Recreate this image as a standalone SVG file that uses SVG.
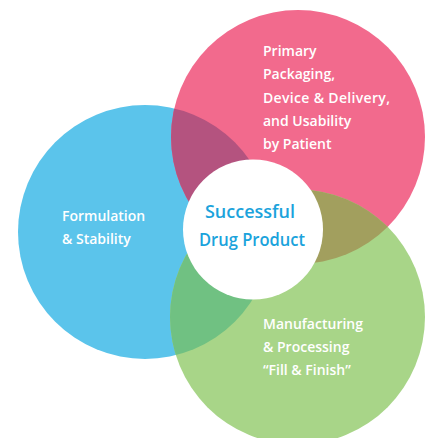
<svg xmlns="http://www.w3.org/2000/svg" width="435" height="438" viewBox="0 0 435 438">
<style>
.lbl{font-family:"Open Sans","Noto Sans",sans-serif;font-weight:600;font-size:14px;fill:#ffffff}
.ctr{font-family:"Open Sans","Noto Sans",sans-serif;font-weight:600;font-size:18px;fill:#1ba3dc;text-anchor:middle}
</style>
<defs>
<clipPath id="cBlue"><circle cx="145" cy="232" r="127"/></clipPath>
<clipPath id="cPink"><circle cx="298" cy="137" r="127"/></clipPath>
</defs>
<rect width="435" height="438" fill="#ffffff"/>
<g id="formulation">
<circle cx="145" cy="232" r="127" fill="#5bc4eb"/>
</g>
<g id="packaging">
<circle cx="298" cy="137" r="127" fill="#f26a8d"/>
</g>
<g id="manufacturing">
<circle cx="297.5" cy="317" r="127.5" fill="#a8d588"/>
</g>
<g id="overlaps">
<circle cx="298" cy="137" r="127" fill="#b4537f" clip-path="url(#cBlue)"/>
<circle cx="297.5" cy="317" r="127.5" fill="#70c182" clip-path="url(#cBlue)"/>
<circle cx="297.5" cy="317" r="127.5" fill="#a29f5e" clip-path="url(#cPink)"/>
</g>
<g id="center">
<circle cx="253" cy="229.5" r="70" fill="#ffffff"/>
<text class="ctr" x="250" y="218">Successful</text>
<text class="ctr" x="252" y="246" textLength="106" lengthAdjust="spacingAndGlyphs">Drug Product</text>
</g>
<g id="labels">
<text class="lbl" x="62" y="221">Formulation</text>
<text class="lbl" x="62" y="244">&amp; Stability</text>
<text class="lbl" x="263" y="56">Primary</text>
<text class="lbl" x="263" y="79">Packaging,</text>
<text class="lbl" x="263" y="103" textLength="127">Device &amp; Delivery,</text>
<text class="lbl" x="263" y="126">and Usability</text>
<text class="lbl" x="263" y="149">by Patient</text>
<text class="lbl" x="263" y="329">Manufacturing</text>
<text class="lbl" x="263" y="352">&amp; Processing</text>
<text class="lbl" x="263" y="375">“Fill &amp; Finish”</text>
</g>
</svg>
